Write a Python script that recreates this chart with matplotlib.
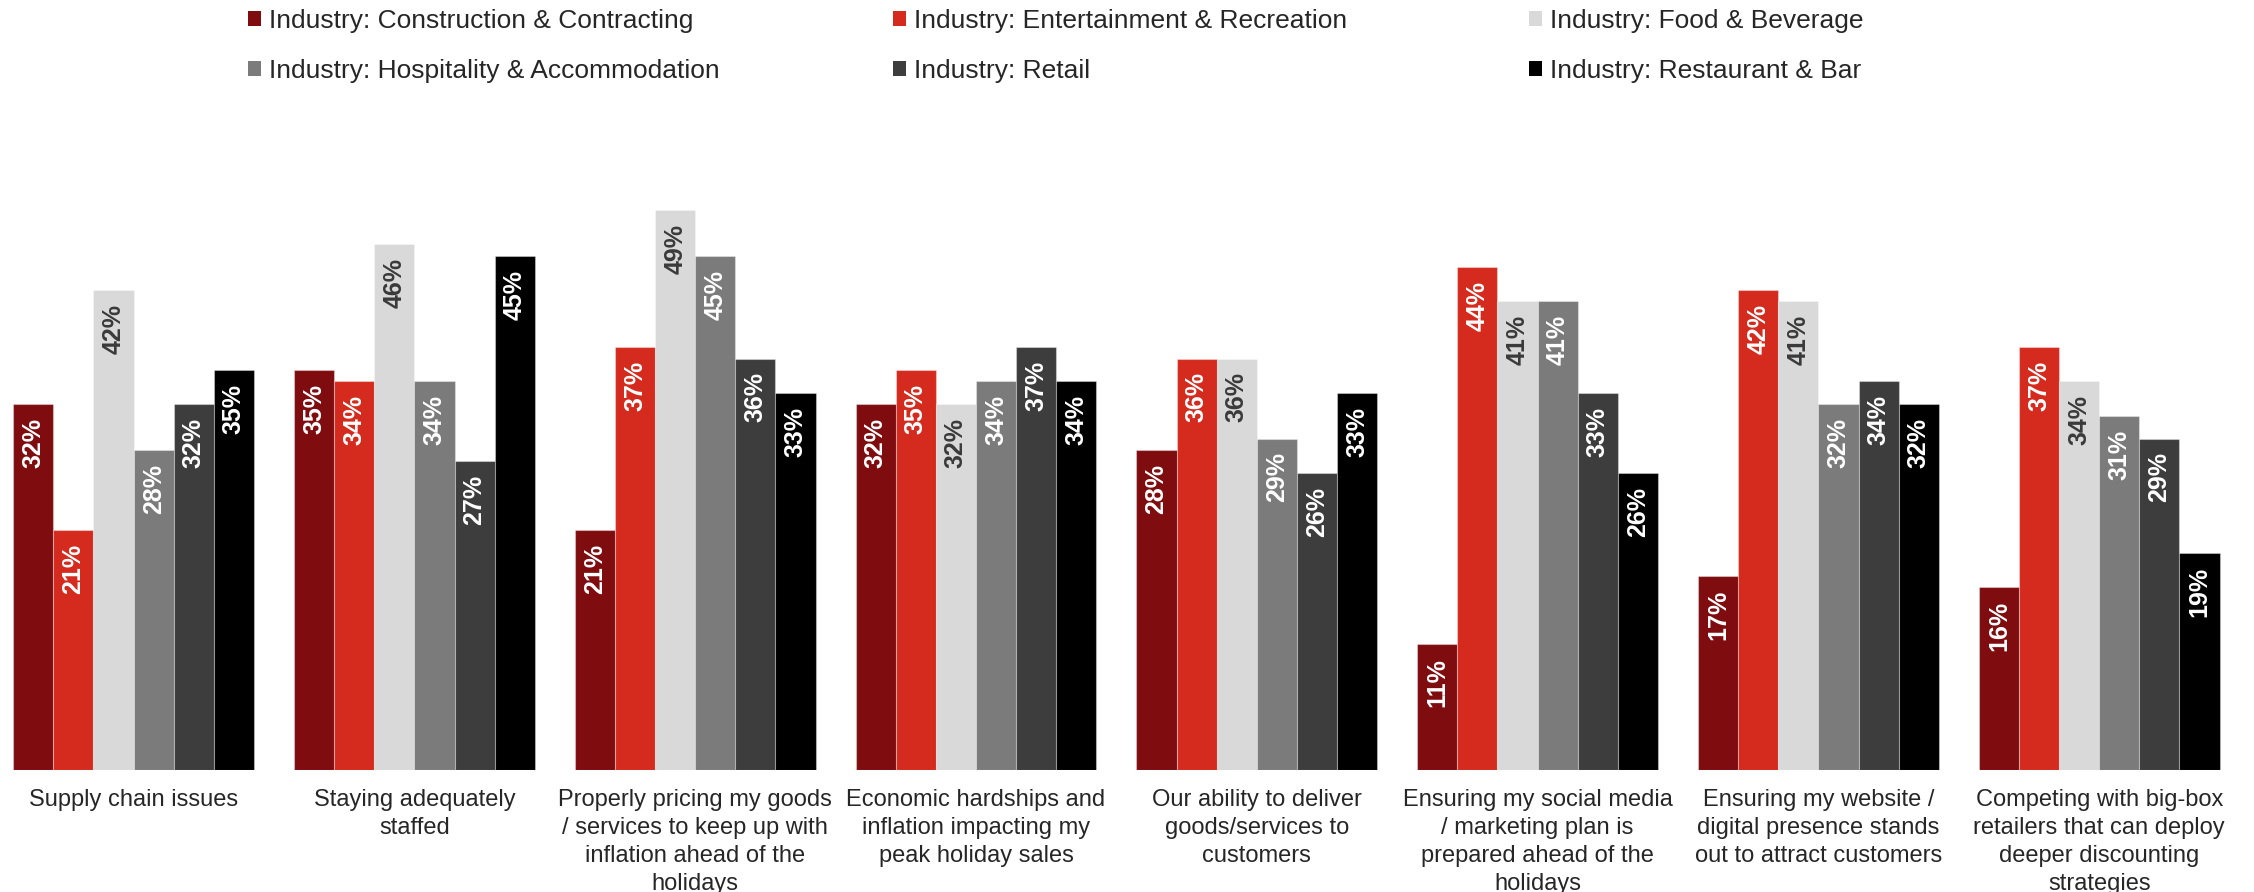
import matplotlib
matplotlib.use("Agg")
import matplotlib.pyplot as plt
from matplotlib.patches import Patch
import numpy as np

plt.rcParams['font.family'] = ['Liberation Sans', 'DejaVu Sans']

categories = [
    "Supply chain issues",
    "Staying adequately\nstaffed",
    "Properly pricing my goods\n/ services to keep up with\ninflation ahead of the\nholidays",
    "Economic hardships and\ninflation impacting my\npeak holiday sales",
    "Our ability to deliver\ngoods/services to\ncustomers",
    "Ensuring my social media\n/ marketing plan is\nprepared ahead of the\nholidays",
    "Ensuring my website /\ndigital presence stands\nout to attract customers",
    "Competing with big-box\nretailers that can deploy\ndeeper discounting\nstrategies",
]
series_names = [
    "Industry: Construction & Contracting",
    "Industry: Entertainment & Recreation",
    "Industry: Food & Beverage",
    "Industry: Hospitality & Accommodation",
    "Industry: Retail",
    "Industry: Restaurant & Bar",
]
construction = [32, 35, 21, 32, 28, 11, 17, 16]
entertainment = [21, 34, 37, 35, 36, 44, 42, 37]
food = [42, 46, 49, 32, 36, 41, 41, 34]
hospitality = [28, 34, 45, 34, 29, 41, 32, 31]
retail = [32, 27, 36, 37, 26, 33, 34, 29]
restaurant = [35, 45, 33, 34, 33, 26, 32, 19]
series_values = [construction, entertainment, food, hospitality, retail, restaurant]

colors = ["#7F0D10", "#D52B1E", "#D9D9D9", "#7B7B7B", "#3D3D3D", "#000000"]
label_colors = ["white", "white", "#3A3A3A", "white", "white", "white"]

W, H = 2254, 892
fig = plt.figure(figsize=(W / 100, H / 100), dpi=100)
px_per_pct = 11.43
y0_px = 770
top_pct = 55
ax = fig.add_axes([0, (H - y0_px) / H, 1, top_pct * px_per_pct / H])

pitch = 280.8
x0_px = 133.6
ax.set_xlim(-x0_px / pitch, (W - x0_px) / pitch)
ax.set_ylim(0, top_pct)

x = np.arange(len(categories))
bw = 1 / 7
for j, (vals, c, lc) in enumerate(zip(series_values, colors, label_colors)):
    pos = x + (j - 2.5) * bw
    bars = ax.bar(pos, vals, width=bw, color=c, edgecolor=(1, 1, 1, 0.35), linewidth=0.8)
    for b, v in zip(bars, vals):
        ax.annotate(f"{v}%", (b.get_x() + b.get_width() / 2, v), xytext=(0, -10),
                    textcoords="offset points", rotation=90, ha="center", va="top",
                    fontsize=18, fontweight="bold", color=lc)

ax.set_xticks(x)
ax.set_xticklabels(categories, fontsize=17, color="#262626", linespacing=1.35)
ax.tick_params(axis="x", length=0, pad=14)
ax.set_yticks([])
for s in ax.spines.values():
    s.set_visible(False)

handles = [Patch(facecolor=c, edgecolor="none") for c in colors]
col_x = [248, 893, 1529]
for k in range(3):
    hs = [handles[k], handles[k + 3]]
    ls = [series_names[k], series_names[k + 3]]
    fig.legend(hs, ls, loc="upper left", bbox_to_anchor=(col_x[k] / W, 1 - 9 / H),
               frameon=False, fontsize=19, handlelength=0.5, handleheight=0.5,
               handletextpad=0.3, borderpad=0, borderaxespad=0, labelspacing=0.98,
               labelcolor="#262626")

fig.savefig("out.png", dpi=100)
